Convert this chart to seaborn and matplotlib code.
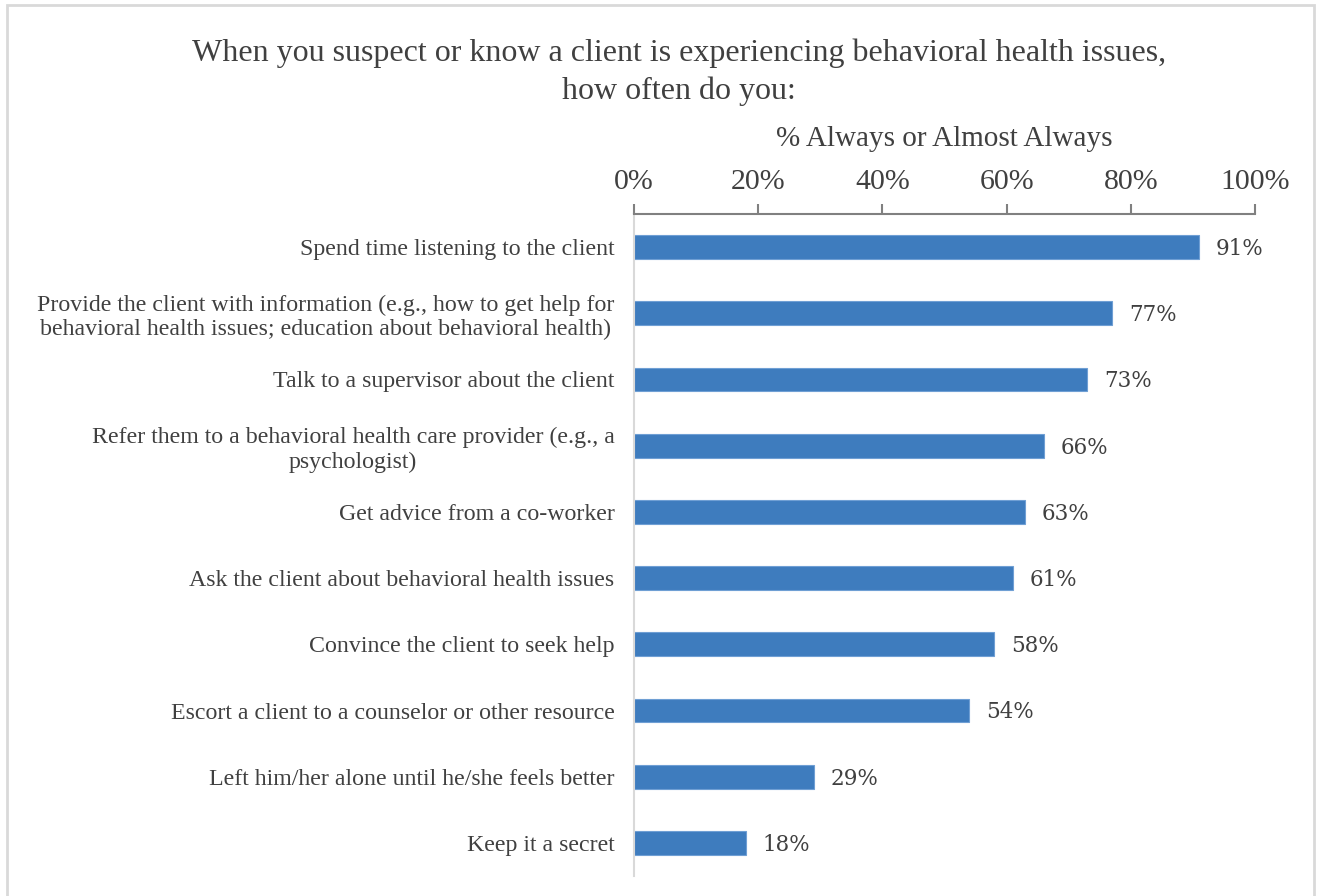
import matplotlib
matplotlib.use("Agg")
import matplotlib.pyplot as plt
import matplotlib.patches as mpatches
import seaborn as sns
import pandas as pd

categories = [
    "Spend time listening to the client",
    "Provide the client with information (e.g., how to get help for\nbehavioral health issues; education about behavioral health)",
    "Talk to a supervisor about the client",
    "Refer them to a behavioral health care provider (e.g., a\npsychologist)",
    "Get advice from a co-worker",
    "Ask the client about behavioral health issues",
    "Convince the client to seek help",
    "Escort a client to a counselor or other resource",
    "Left him/her alone until he/she feels better",
    "Keep it a secret",
]
values = [91, 77, 73, 66, 63, 61, 58, 54, 29, 18]
tick_values = [0, 20, 40, 60, 80, 100]
tick_labels = ["0%", "20%", "40%", "60%", "80%", "100%"]

title = ("When you suspect or know a client is experiencing behavioral health issues,\n"
         "how often do you:")
xlabel = "% Always or Almost Always"

sns.set_theme(style="white")
plt.rcParams["font.family"] = ["Liberation Serif", "DejaVu Serif"]

TEXT = "#404040"
BAR = "#3E7CBE"

df = pd.DataFrame({"item": categories, "pct": values})

fig = plt.figure(figsize=(13.17, 8.96), dpi=100)
ax = fig.add_axes([0.4814, 0.0223, 0.4715, 0.7389])

sns.barplot(data=df, x="pct", y="item", orient="h", color=BAR,
            saturation=1, width=0.36, edgecolor="#6f9fd4", linewidth=0.8, ax=ax)

ax.set_xlim(0, 100)
ax.set_ylim(9.5, -0.5)
ax.xaxis.tick_top()
ax.xaxis.set_label_position("top")
ax.set_xticks(tick_values)
ax.set_xticklabels(tick_labels, fontsize=21.5, color=TEXT)
ax.tick_params(axis="x", direction="out", length=7, width=1.5, color="#808080", pad=7)
ax.tick_params(axis="y", length=0, pad=14)
ax.set_xlabel(xlabel, fontsize=21, color=TEXT, labelpad=16)
ax.set_ylabel("")
for lbl in ax.get_yticklabels():
    lbl.set_fontsize(17.2)
    lbl.set_color(TEXT)
    lbl.set_multialignment("center")
    lbl.set_linespacing(1.2)

for side in ("right", "bottom"):
    ax.spines[side].set_visible(False)
ax.spines["top"].set_color("#808080")
ax.spines["top"].set_linewidth(1.5)
ax.spines["left"].set_color("#d9d9d9")
ax.spines["left"].set_linewidth(1.5)

for i, v in enumerate(values):
    ax.text(v + 2.7, i + 0.03, f"{v}%", va="center", ha="left", fontsize=15.5,
            color=TEXT, family=["DejaVu Serif"])

fig.text(0.5155, 0.957, title, ha="center", va="top", fontsize=23,
         color=TEXT, linespacing=1.38)

fig.patches.append(mpatches.Rectangle((0.005, -0.01), 0.993, 1.004,
                                      transform=fig.transFigure, fill=False,
                                      edgecolor="#d9d9d9", linewidth=2))

fig.savefig("out.png", dpi=100, facecolor="white")
